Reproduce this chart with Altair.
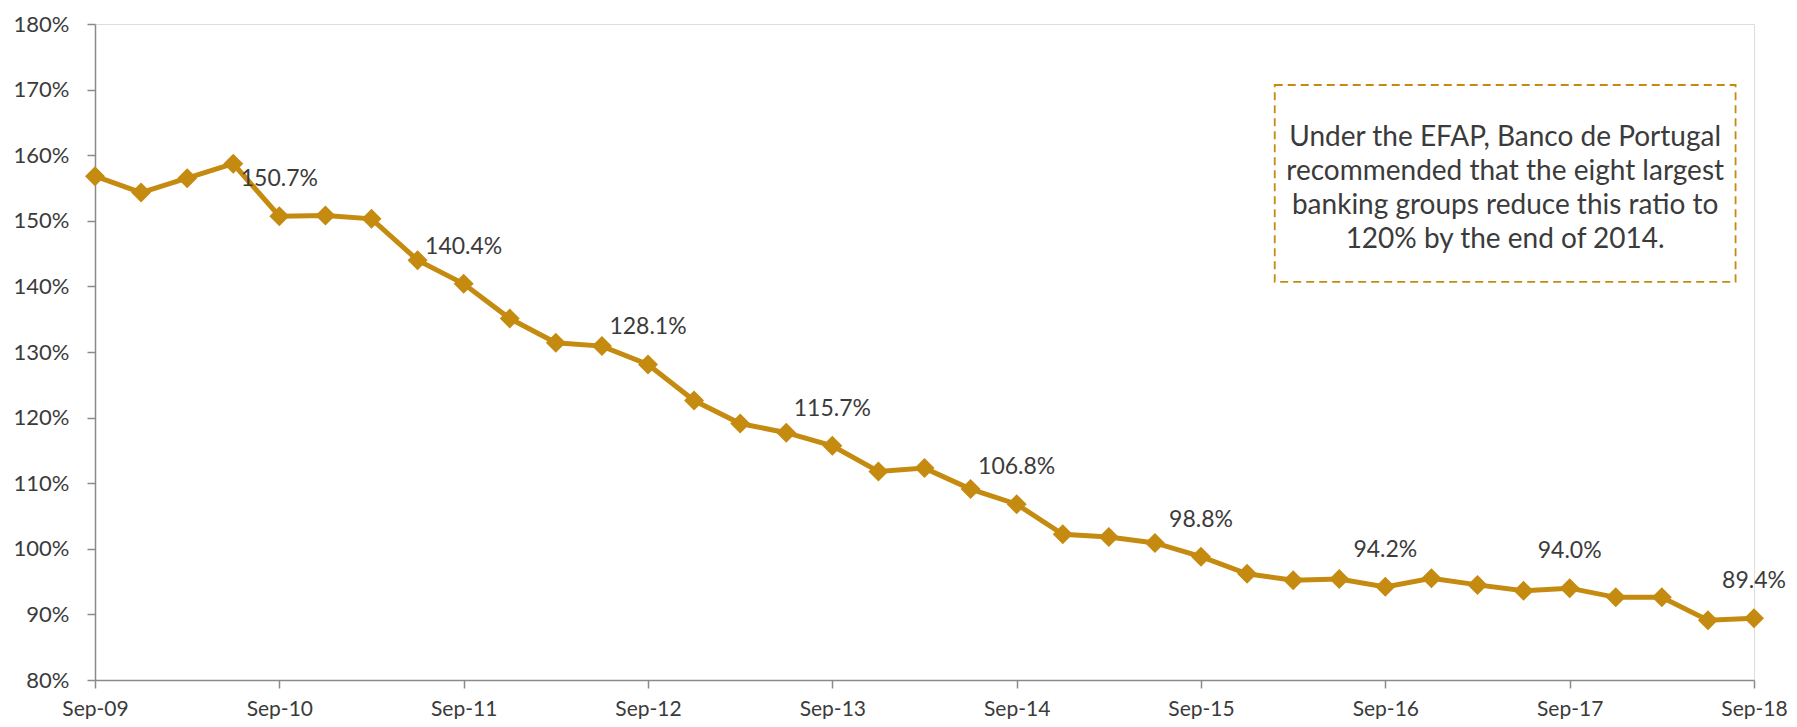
import altair as alt
import pandas as pd

# Quarterly loan-to-deposit ratio (%), Sep-09 .. Sep-18
quarters = [
    "Sep-09", "Dec-09", "Mar-10", "Jun-10", "Sep-10", "Dec-10", "Mar-11", "Jun-11",
    "Sep-11", "Dec-11", "Mar-12", "Jun-12", "Sep-12", "Dec-12", "Mar-13", "Jun-13",
    "Sep-13", "Dec-13", "Mar-14", "Jun-14", "Sep-14", "Dec-14", "Mar-15", "Jun-15",
    "Sep-15", "Dec-15", "Mar-16", "Jun-16", "Sep-16", "Dec-16", "Mar-17", "Jun-17",
    "Sep-17", "Dec-17", "Mar-18", "Jun-18", "Sep-18",
]
ratio = [
    156.8, 154.3, 156.5, 158.7, 150.7, 150.8, 150.3, 144.0,
    140.4, 135.1, 131.4, 130.9, 128.1, 122.6, 119.1, 117.7,
    115.7, 111.8, 112.3, 109.1, 106.8, 102.2, 101.8, 100.9,
    98.8, 96.2, 95.2, 95.4, 94.2, 95.5, 94.5, 93.6,
    94.0, 92.6, 92.6, 89.1, 89.4,
]
tick_labels = ["Sep-09", "Sep-10", "Sep-11", "Sep-12", "Sep-13",
               "Sep-14", "Sep-15", "Sep-16", "Sep-17", "Sep-18"]
y_ticks = [80, 90, 100, 110, 120, 130, 140, 150, 160, 170, 180]

note_lines = [
    "Under the EFAP, Banco de Portugal",
    "recommended that the eight largest",
    "banking groups reduce this ratio to",
    "120% by the end of 2014.",
]
# annotation box, in data units (quarter index, percent)
note_x, note_x2 = 25.6, 35.6
note_y, note_y2 = 170.7, 140.7

GOLD = "#C58B10"
TEXT = "#3b3b3b"
AXIS = "#8a8a8a"
FONT = "Lato"

df = pd.DataFrame({"idx": list(range(len(quarters))), "quarter": quarters, "value": ratio})

label_expr = "[" + ",".join("'%s'" % t for t in tick_labels) + "][round(datum.value / 4)]"

x = alt.X(
    "idx:Q",
    scale=alt.Scale(domain=[0, len(quarters) - 1], nice=False, zero=False),
    axis=alt.Axis(
        values=list(range(0, len(quarters), 4)),
        labelExpr=label_expr,
        title=None,
        grid=False,
        domainColor=AXIS,
        domainWidth=1.5,
        tickColor=AXIS,
        tickWidth=1.5,
        tickSize=8,
        labelPadding=10,
        labelFont=FONT,
        labelFontSize=21,
        labelColor=TEXT,
        labelFlush=False,
        labelOverlap=False,
    ),
)
y = alt.Y(
    "value:Q",
    scale=alt.Scale(domain=[80, 180], nice=False, zero=False),
    axis=alt.Axis(
        values=y_ticks,
        labelExpr="datum.value + '%'",
        title=None,
        grid=False,
        domainColor=AXIS,
        domainWidth=1.5,
        tickColor=AXIS,
        tickWidth=1.5,
        tickSize=8,
        labelPadding=18,
        labelFont=FONT,
        labelFontSize=22,
        labelColor=TEXT,
        labelFlush=False,
        labelOverlap=False,
    ),
)

base = alt.Chart(df)

line = base.mark_line(color=GOLD, strokeWidth=5).encode(x=x, y=y)
points = base.mark_point(shape="diamond", filled=True, color=GOLD, size=400, opacity=1).encode(x=x, y=y)
labels = (
    base.transform_filter("datum.idx % 4 == 0 && datum.idx > 0")
    .transform_calculate(label="format(datum.value, '.1f') + '%'")
    .mark_text(font=FONT, fontSize=23, color=TEXT, baseline="middle", align="center", dy=-37)
    .encode(x=x, y=y, text="label:N")
)

note_df = pd.DataFrame({"x": [note_x], "x2": [note_x2], "y": [note_y], "y2": [note_y2],
                        "cx": [(note_x + note_x2) / 2], "cy": [(note_y + note_y2) / 2],
                        "txt": [note_lines]})
box = alt.Chart(note_df).mark_rect(
    fill="white", stroke=GOLD, strokeWidth=1.8, strokeDash=[8, 5]
).encode(x="x:Q", x2="x2:Q", y="y:Q", y2="y2:Q")
note = alt.Chart(note_df).mark_text(
    font=FONT, fontSize=28, color=TEXT, align="center", baseline="middle",
    lineHeight=34, dy=-45
).encode(x="cx:Q", y="cy:Q", text="txt")

chart = (
    alt.layer(line, points, labels, box, note)
    .properties(
        width=1659,
        height=656,
        autosize=alt.AutoSizeParams(type="none"),
        padding={"left": 87, "top": 16, "right": 35, "bottom": 39},
    )
    .configure_view(stroke=None)
    .configure(background="white")
)

chart.save("out.html", embed_options={"renderer": "svg", "actions": False})
